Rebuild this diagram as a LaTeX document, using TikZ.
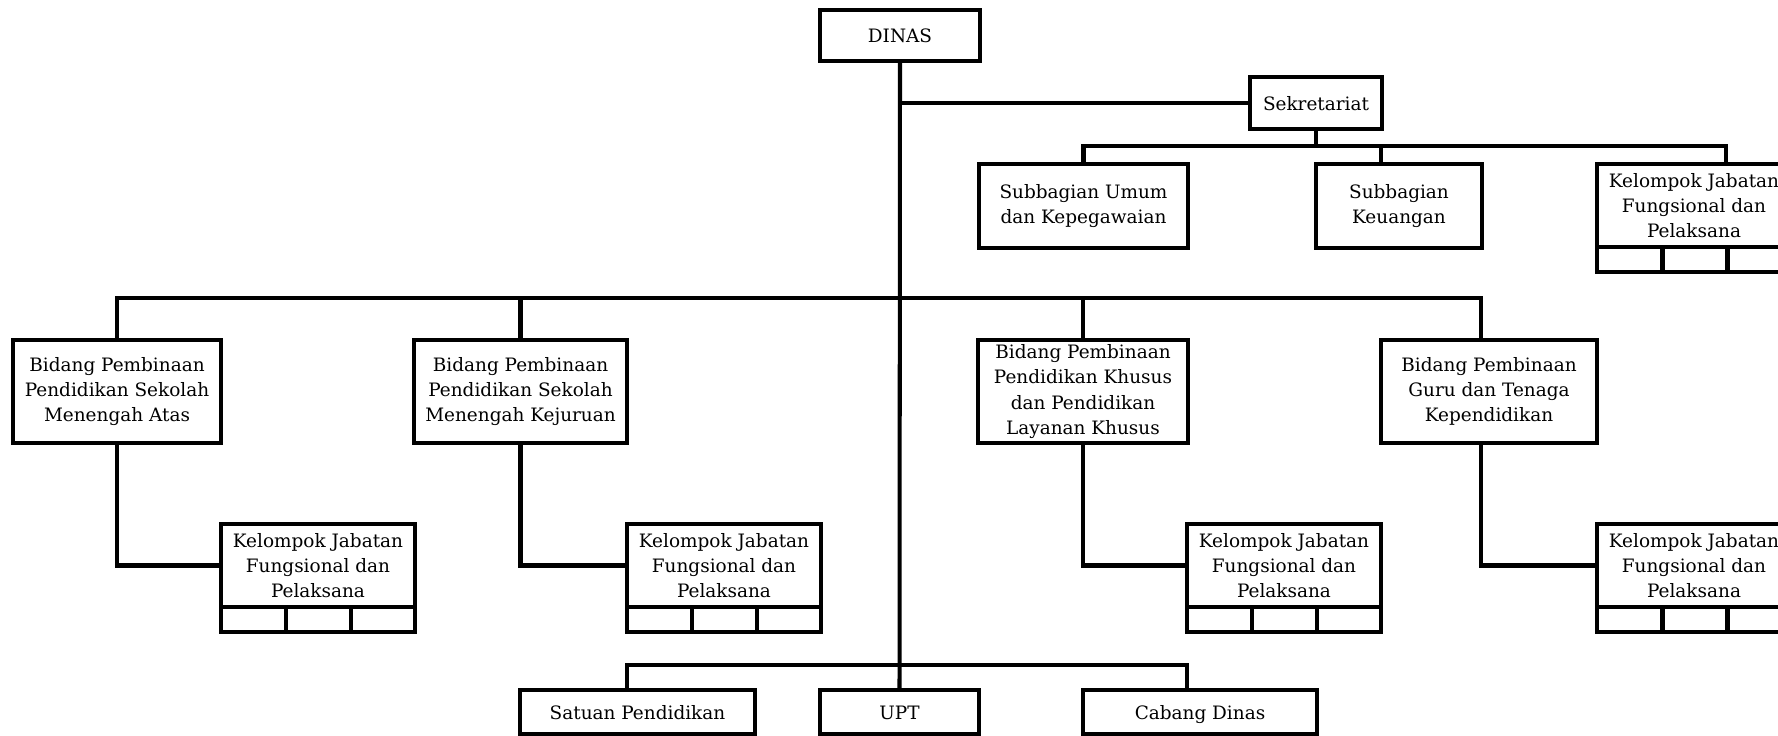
\documentclass[tikz,border=0pt]{standalone}
\usepackage{fontspec}
\setmainfont{DejaVu Serif}
\usepackage{tikz}
\usetikzlibrary{positioning, calc}
\tikzset{
	unitbox/.style={draw, line width=2.8pt, align=center, inner sep=2pt, outer sep=0pt,
		font=\fontsize{10.5}{14.4}\selectfont}
}
\tikzset{
	linebox/.style={unitbox, text height=9.5pt, text depth=1.5pt}
}
\tikzset{
	conn/.style={line width=2.3pt}
}
\tikzset{
	kjfbox/.style={unitbox, minimum width=3.88cm, minimum height=1.66cm}
}
\tikzset{
	bidangbox/.style={unitbox, minimum height=2.06cm}
}

\begin{document}
\begin{tikzpicture}[x=0.02cm, y=-0.02cm]
      \useasboundingbox (0,0) rectangle (1778,736);
      \clip (0,0) rectangle (1778,736);
      % head and secretariat
      \node[linebox, minimum width=3.2cm, minimum height=1.02cm] (dinas) at (900,35.5) {DINAS};
      \node[linebox, minimum width=2.64cm, minimum height=1.04cm] (sek) at (1316,103) {Sekretariat};
      \node[unitbox, minimum width=4.18cm, minimum height=1.68cm] (umum) at (1083.5,206) {Subbagian Umum\\dan Kepegawaian};
      \node[unitbox, minimum width=3.32cm, minimum height=1.68cm] (keu) at (1399,206) {Subbagian\\Keuangan};
      \node[kjfbox] (k0) at (1694,205.5) {Kelompok Jabatan\\Fungsional dan\\Pelaksana};
      % fields
      \node[bidangbox, minimum width=4.16cm] (sma) at (117,391.5) {Bidang Pembinaan\\Pendidikan Sekolah\\Menengah Atas};
      \node[bidangbox, minimum width=4.26cm] (smk) at (520.5,391.5) {Bidang Pembinaan\\Pendidikan Sekolah\\Menengah Kejuruan};
      \node[bidangbox, minimum width=4.2cm] (khusus) at (1083,391.5) {Bidang Pembinaan\\Pendidikan Khusus\\dan Pendidikan\\Layanan Khusus};
      \node[bidangbox, minimum width=4.32cm] (guru) at (1489,391.5) {Bidang Pembinaan\\Guru dan Tenaga\\Kependidikan};
      % functional groups
      \node[kjfbox] (k1) at (318,565.5) {Kelompok Jabatan\\Fungsional dan\\Pelaksana};
      \node[kjfbox] (k2) at (724,565.5) {Kelompok Jabatan\\Fungsional dan\\Pelaksana};
      \node[kjfbox] (k3) at (1284,565.5) {Kelompok Jabatan\\Fungsional dan\\Pelaksana};
      \node[kjfbox] (k4) at (1694,565.5) {Kelompok Jabatan\\Fungsional dan\\Pelaksana};
      % bottom units
      \node[linebox, minimum width=4.7cm, minimum height=0.88cm] (sat) at (637.5,712) {Satuan Pendidikan};
      \node[linebox, minimum width=3.18cm, minimum height=0.88cm] (upt) at (899.5,712) {UPT};
      \node[linebox, minimum width=4.68cm, minimum height=0.88cm] (cab) at (1200,712) {Cabang Dinas};
      % cells under each group
      \foreach \k in {k0,k1,k2,k3,k4} {
        \draw[line width=2.8pt] (\k.south west) rectangle ++(194,25);
        \foreach \i in {65,130}
          \draw[line width=2.8pt] ($(\k.south west)+(\i,0)$) -- ++(0,25);
      }
      % buses and drop points
      \coordinate (sbus) at (1316,146);
      \coordinate (mbus) at (900,298);
      \coordinate (bbus) at (900,665);
      \coordinate (keutop) at ($(keu.north west)+(65,0)$);
      \coordinate (k0top) at ($(k0.north west)+(129,0)$);
      \coordinate (gurutop) at ($(guru.north west)+(100,0)$);
      \coordinate (sattop) at ($(sat.north west)+(107,0)$);
      \coordinate (cabtop) at ($(cab.north west)+(104,0)$);
      % trunk and secretariat
      \draw[conn] (dinas.south) -- (upt.north);
      \draw[conn] (dinas.south |- sek.west) -- (sek.west);
      \draw[conn] (sek.south) -- (sbus);
      \draw[conn] (umum.north) -- (umum.north |- sbus) -- (k0top |- sbus) -- (k0top);
      \draw[conn] (keutop) -- (keutop |- sbus);
      % fields bus
      \draw[conn] (sma.north) -- (sma.north |- mbus) -- (gurutop |- mbus) -- (gurutop);
      \foreach \b in {smk,khusus}
        \draw[conn] (\b.north) -- (\b.north |- mbus);
      % fields to groups
      \draw[conn] (sma.south) |- (k1.west);
      \draw[conn] (smk.south) |- (k2.west);
      \draw[conn] (khusus.south) |- (k3.west);
      \draw[conn] (guru.south -| gurutop) |- (k4.west);
      % bottom bus
      \draw[conn] (sattop) -- (sattop |- bbus) -- (cabtop |- bbus) -- (cabtop);
    \end{tikzpicture}
\end{document}
